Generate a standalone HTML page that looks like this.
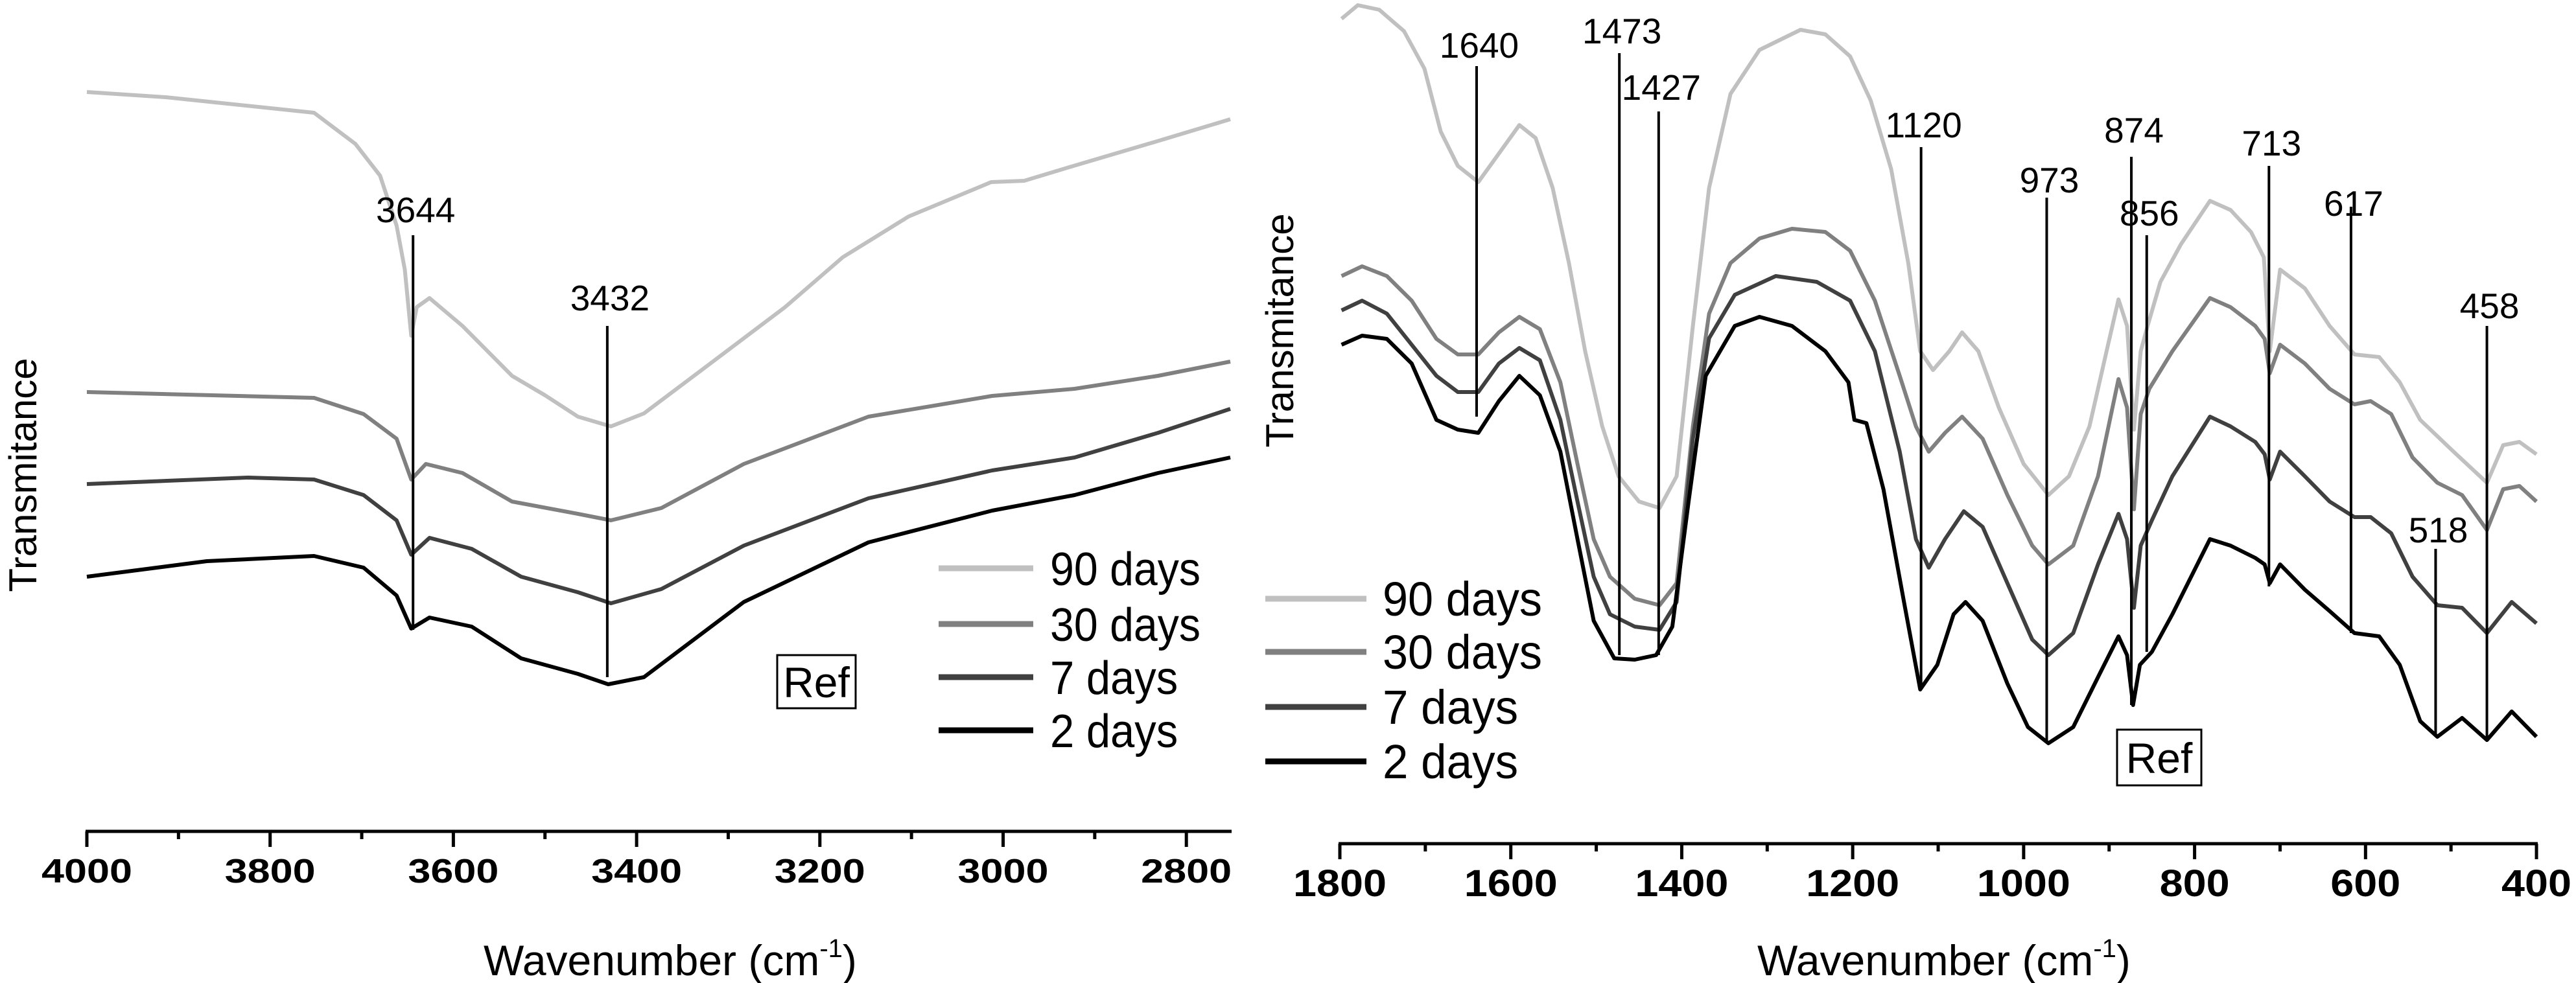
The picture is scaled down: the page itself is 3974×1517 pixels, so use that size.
<!DOCTYPE html>
<html><head><meta charset="utf-8"><style>
html,body{margin:0;padding:0;background:#fff;}
svg{display:block;font-family:"Liberation Sans",Arial,sans-serif;}
</style></head><body>
<svg id="chart" width="3974" height="1517" viewBox="0 0 3974 1517" xmlns="http://www.w3.org/2000/svg">
<g id="left"></g>
<g id="right"></g>
</svg>
<script>
// ---------- data ----------
const seriesNames = ["90 days","30 days","7 days","2 days"];
const seriesColors = ["#c0c0c0","#808080","#404040","#000000"];

const leftTicks = [4000,3800,3600,3400,3200,3000,2800];
const rightTicks = [1800,1600,1400,1200,1000,800,600,400];

const left90 = [[4000,114.1],[3914,113.3],[3752,110.9],[3707,106.1],[3680,101.2],[3662,93.5],[3653,86.7],[3646,76.5],[3640,80.9],[3626,82.3],[3590,78.0],[3536,70.3],[3500,67.3],[3464,64.0],[3428,62.5],[3392,64.5],[3329,71.2],[3238,80.9],[3175,88.6],[3103,94.9],[3013,100.2],[2977,100.4],[2923,102.7],[2832,106.5],[2752,109.9]];
const left30 = [[4000,67.8],[3752,66.9],[3698,64.4],[3662,60.6],[3646,54.3],[3630,56.7],[3590,55.3],[3536,50.9],[3464,49.0],[3428,48.0],[3373,49.9],[3283,56.7],[3147,64.0],[3012,67.2],[2922,68.3],[2831,70.3],[2752,72.5]];
const left7 = [[4000,53.6],[3824,54.6],[3752,54.3],[3698,51.9],[3662,48.0],[3646,42.7],[3626,45.3],[3580,43.6],[3526,39.3],[3464,36.9],[3428,35.2],[3373,37.4],[3283,44.1],[3147,51.4],[3012,55.7],[2922,57.7],[2831,61.5],[2752,65.2]];
const left2 = [[4000,39.3],[3869,41.7],[3752,42.5],[3698,40.7],[3662,36.4],[3646,31.3],[3626,33.0],[3580,31.6],[3526,26.7],[3464,24.3],[3431,22.7],[3392,23.8],[3283,35.4],[3147,44.6],[3012,49.5],[2922,51.9],[2831,55.3],[2752,57.7]];

const right90 = [[1798,127.3],[1779,129.4],[1754,128.7],[1725,125.4],[1701,119.6],[1682,109.9],[1662,104.6],[1638,102.1],[1614,106.5],[1590,110.9],[1571,108.9],[1551,101.2],[1532,89.6],[1513,76.0],[1493,64.4],[1474,56.7],[1450,52.8],[1426,51.8],[1406,56.7],[1387,79.9],[1368,101.2],[1343,115.7],[1309,122.5],[1261,125.6],[1232,124.9],[1203,121.5],[1179,114.7],[1155,104.1],[1135,89.6],[1121,76.0],[1106,73.1],[1087,76.0],[1072,78.9],[1053,76.0],[1029,67.3],[1000,58.6],[971,53.8],[947,56.7],[923,64.4],[903,76.0],[889,84.0],[879,79.9],[871,63.9],[863,76.0],[855,79.9],[840,86.7],[816,92.5],[782,99.2],[758,97.8],[734,94.4],[719,90.5],[712,76.0],[700,88.6],[671,85.7],[642,79.9],[613,75.5],[584,75.1],[560,71.2],[536,65.4],[497,60.5],[458,55.7],[439,61.5],[420,62.0],[400,60.1]];
const right30 = [[1798,87.6],[1774,89.1],[1745,87.6],[1716,83.8],[1687,77.9],[1662,75.5],[1638,75.5],[1614,78.9],[1590,81.3],[1566,79.4],[1542,71.2],[1522,58.6],[1503,47.0],[1484,41.2],[1455,37.8],[1426,36.8],[1406,40.2],[1387,64.4],[1368,81.8],[1343,89.6],[1309,93.4],[1271,94.9],[1232,94.4],[1203,91.5],[1174,83.8],[1145,72.2],[1126,64.4],[1111,60.5],[1092,63.4],[1072,65.9],[1048,62.5],[1019,53.8],[990,46.0],[971,43.1],[942,46.0],[913,56.7],[889,71.7],[879,67.3],[871,51.6],[863,66.3],[853,70.2],[826,76.0],[782,84.2],[758,82.8],[729,79.9],[718,77.9],[712,72.6],[700,77.0],[671,74.1],[642,70.2],[613,67.8],[594,68.3],[570,66.3],[545,59.6],[516,55.7],[487,53.8],[458,48.4],[439,54.7],[420,55.2],[400,52.8]];
const right7 = [[1798,82.3],[1774,83.8],[1745,81.8],[1716,77.0],[1687,72.2],[1662,69.7],[1638,69.7],[1614,74.1],[1590,76.5],[1566,74.6],[1542,65.4],[1522,52.8],[1503,41.2],[1484,35.4],[1455,33.5],[1426,33.0],[1406,37.3],[1387,62.5],[1368,78.0],[1338,84.7],[1290,87.6],[1242,86.7],[1203,83.8],[1174,76.0],[1145,60.5],[1126,47.0],[1111,42.6],[1092,47.0],[1070,51.3],[1048,48.9],[1019,40.2],[990,31.5],[971,29.1],[942,32.5],[913,43.1],[889,50.9],[879,47.0],[871,36.4],[863,46.0],[850,49.9],[826,56.7],[782,65.9],[758,64.4],[729,62.0],[718,60.1],[712,56.2],[700,60.5],[671,56.7],[642,52.8],[613,50.4],[594,50.4],[570,47.9],[545,41.2],[516,36.8],[487,36.4],[458,32.5],[429,37.3],[400,34.0]];
const right2 = [[1798,77.0],[1774,78.4],[1745,77.9],[1716,74.1],[1687,65.4],[1662,63.9],[1638,63.4],[1614,68.3],[1590,72.2],[1566,69.2],[1542,60.5],[1522,47.0],[1503,34.4],[1479,28.6],[1455,28.4],[1430,29.1],[1411,33.5],[1392,52.8],[1372,72.2],[1338,79.9],[1309,81.3],[1271,79.9],[1232,76.0],[1205,71.2],[1198,65.4],[1184,64.9],[1164,54.7],[1140,37.3],[1121,23.8],[1101,27.6],[1082,35.4],[1068,37.3],[1048,34.4],[1019,24.7],[995,18.0],[971,15.5],[942,18.0],[913,25.7],[889,32.0],[879,29.1],[872,21.4],[864,27.6],[850,29.6],[826,35.4],[782,47.0],[758,46.0],[729,44.1],[718,43.1],[712,40.2],[700,43.1],[671,39.2],[642,35.9],[613,32.5],[584,32.0],[560,27.6],[536,18.9],[516,16.5],[487,19.4],[458,16.0],[429,20.4],[400,16.5]];

// annotations: wavenumber, line top T, line bottom T, label T
const leftPeaks = [3644,3432];
const leftPeakTop = [92.0,78.0];
const leftPeakBottom = [31.1,23.8];
const leftPeakLabel = [95.9,82.3];

const rightPeaks = [1640,1473,1427,1120,973,874,856,713,617,518,458];
const rightPeakTop = [120.0,122.0,113.0,107.5,99.7,106.0,93.9,104.6,98.3,45.5,79.9];
const rightPeakBottom = [65.9,29.1,29.1,23.8,15.5,21.4,29.6,39.7,32.5,16.5,16.0];
const rightPeakLabel = [123.2,125.4,116.7,110.9,102.4,110.1,97.3,108.1,98.8,48.4,83.0];

// ---------- helpers ----------
const NS = "http://www.w3.org/2000/svg";
function mk(parent, tag, attrs, text){
  const e = document.createElementNS(NS, tag);
  for (const k in attrs) e.setAttribute(k, attrs[k]);
  if (text !== undefined) e.textContent = text;
  parent.appendChild(e);
  return e;
}
// axis functions
const LX = wn => 134 + (4000 - wn) * 1.4135;
const LY = t => 1283 - t * 10;
const RX = wn => 2067 + (1800 - wn) * 1.3186;
const RY = t => 1302 - t * 10;

function drawPanel(g, X, Y, series, ticks, minorStep, axisY, x0, x1, tickFont, digitW, tickBase, peaks, tops, bottoms, labels, legend, refBox, ylab, xlabX){
  series.forEach((s, i) => {
    const d = s.map((p, j) => (j ? "L" : "M") + X(p[0]).toFixed(1) + " " + Y(p[1]).toFixed(1)).join(" ");
    const path = mk(g, "path", {d: d, fill: "none", stroke: seriesColors[i], "stroke-width": 6, "stroke-linejoin": "round"});
    
    
  });
  peaks.forEach((wn, i) => {
    const ln = mk(g, "line", {x1: X(wn), x2: X(wn), y1: Y(tops[i]), y2: Y(bottoms[i]), stroke: "#000", "stroke-width": 4});
    
    
    const tx = mk(g, "text", {x: X(wn) + 4, y: Y(labels[i]) + 19, "font-size": 55, "text-anchor": "middle", fill: "#000"}, String(wn));
    
    
  });
  const ax = mk(g, "line", {x1: x0, x2: x1, y1: axisY, y2: axisY, stroke: "#000", "stroke-width": 5});
  
  
  const hi = ticks[0], lo = ticks[ticks.length - 1];
  for (let v = hi; v >= Math.min(lo, 2750); v -= minorStep){
    if (X(v) > x1 + 1) break;
    const major = ticks.indexOf(v) >= 0;
    const t = mk(g, "line", {x1: X(v), x2: X(v), y1: axisY, y2: axisY + (major ? 24 : 12), stroke: "#000", "stroke-width": 5});
    
    
  }
  ticks.forEach(v => {
    const s = String(v);
    const t = mk(g, "text", {x: X(v), y: tickBase, "font-size": tickFont, "font-weight": "bold", "text-anchor": "middle", textLength: digitW * s.length, lengthAdjust: "spacingAndGlyphs"}, s);
    
    
  });
  const xl = mk(g, "text", {x: xlabX, y: 1505, "font-size": 66, "text-anchor": "start"});
  
  
  mk(xl, "tspan", {}, "Wavenumber (cm");
  mk(xl, "tspan", {dy: -28, "font-size": 40}, "-1");
  mk(xl, "tspan", {dy: 28}, ")");
  const yl = mk(g, "text", {x: 0, y: 0, "font-size": 60, "text-anchor": "middle", transform: "translate(" + ylab[0] + "," + ylab[1] + ") rotate(-90)"}, "Transmitance");
  
  
  legend.ys.forEach((y, i) => {
    const l = mk(g, "line", {x1: legend.x0, x2: legend.x1, y1: y, y2: y, stroke: seriesColors[i], "stroke-width": 9});
    
    
    const t = mk(g, "text", {x: legend.tx, y: y + 26, "font-size": legend.fs, textLength: seriesNames[i].length === 7 ? legend.tl : legend.tl * 0.85, lengthAdjust: "spacingAndGlyphs"}, seriesNames[i]);
    
    
  });
  const rb = mk(g, "rect", {x: refBox[0], y: refBox[1], width: refBox[2], height: refBox[3], fill: "#fff", stroke: "#000", "stroke-width": 3});
  
  
  const rt = mk(g, "text", {x: refBox[0] + refBox[2] / 2, y: refBox[1] + refBox[3] / 2 + 24, "font-size": 66, "text-anchor": "middle"}, "Ref");
  
  
}

drawPanel(document.getElementById("left"), LX, LY, [left90, left30, left7, left2], leftTicks, 100, 1283, 132, 1900, 52, 35, 1362,
  leftPeaks, leftPeakTop, leftPeakBottom, leftPeakLabel,
  {x0: 1448, x1: 1594, tx: 1620, ys: [877, 963, 1045, 1127], fs: 72, tl: 232},
  [1199, 1011, 121, 82], [56, 733], 746);

drawPanel(document.getElementById("right"), RX, RY, [right90, right30, right7, right2], rightTicks, 100, 1302, 2065, 3915, 58, 36, 1383,
  rightPeaks, rightPeakTop, rightPeakBottom, rightPeakLabel,
  {x0: 1952, x1: 2108, tx: 2133, ys: [924, 1006, 1091, 1175], fs: 74, tl: 246},
  [3266, 1126, 130, 86], [1995, 510], 2711);
</script>
</body></html>
